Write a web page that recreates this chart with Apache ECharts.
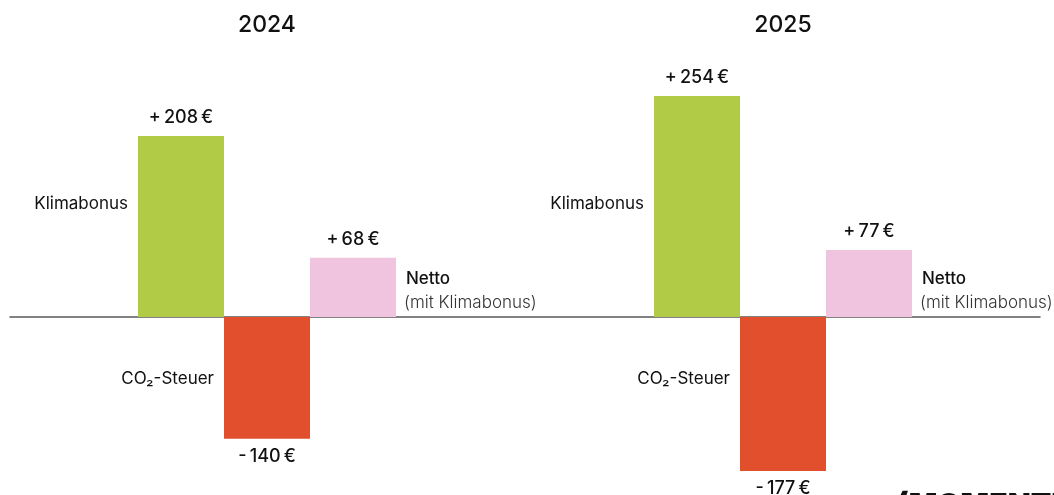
<!DOCTYPE html>
<html>
<head>
<meta charset="utf-8">
<title>Klimabonus vs. CO2-Steuer</title>
<script src="https://cdn.jsdelivr.net/npm/echarts@6/dist/echarts.min.js"></script>
<style>
  html, body { margin: 0; padding: 0; background: #fff; }
  #chart { width: 1054px; height: 495px; }
</style>
</head>
<body>
<div id="chart"></div>
<script>
// data
const years = ['2024', '2025'];
const parts = ['Klimabonus', 'CO₂-Steuer', 'Netto'];
const klimabonus = [208, 254];
const co2Steuer = [-140, -177];
const netto = [68, 77];
const nettoNote = '(mit Klimabonus)';

const colors = ['#b2cb47', '#e14f2d', '#f0c4de'];
const FONT = 'Inter, "Noto Sans", sans-serif';

// one slot per bar, three empty slots between the years
const categories = [];
const values = [];
const gapSlots = 3;
years.forEach((y, i) => {
    const vals = [klimabonus[i], co2Steuer[i], netto[i]];
    parts.forEach((p, j) => {
        categories.push(p + ' ' + y);
        values.push({
            value: vals[j],
            itemStyle: { color: colors[j] },
            label: { position: vals[j] < 0 ? 'bottom' : 'top' }
        });
    });
    if (i < years.length - 1) {
        for (let g = 0; g < gapSlots; g++) {
            categories.push('gap' + i + g);
            values.push('-');
        }
    }
});

const fmt = (v) => (v < 0 ? '-\u2009' : '+\u2009') + Math.abs(v) + '\u2009€';

const myChart = echarts.init(document.getElementById('chart'));
myChart.setOption({
    animation: false,
    backgroundColor: '#fff',
    grid: [
        { left: 138, right: 142, top: 56, bottom: 4 },
        { left: 10, right: 14, top: 56, bottom: 4 }
    ],
    xAxis: [
        {
            type: 'category', gridIndex: 0, data: categories,
            axisLine: { show: false }, axisTick: { show: false }, axisLabel: { show: false }
        },
        {
            type: 'category', gridIndex: 1, data: ['x'],
            axisLine: { show: true, onZero: true, lineStyle: { color: '#5a5a5a', width: 1.5 } },
            axisTick: { show: false }, axisLabel: { show: false }
        }
    ],
    yAxis: [
        { type: 'value', gridIndex: 0, min: -200, max: 300, show: false },
        { type: 'value', gridIndex: 1, min: -200, max: 300, show: false }
    ],
    series: [{
        type: 'bar',
        xAxisIndex: 0,
        yAxisIndex: 0,
        barWidth: '100%',
        data: values,
        label: {
            show: true,
            distance: 9,
            color: '#111',
            fontFamily: FONT,
            fontSize: 18,
            fontWeight: 500,
            formatter: (p) => fmt(p.value)
        }
    }]
});

// annotations next to the bars
const px = (idx) => myChart.convertToPixel({ xAxisIndex: 0, yAxisIndex: 0 }, [idx, 0]);
const slot = px(1)[0] - px(0)[0];
const graphics = [];
years.forEach((y, i) => {
    const base = i * (parts.length + gapSlots);
    const kb = px(base), co = px(base + 1), ne = px(base + 2);
    graphics.push({
        type: 'text', x: co[0], y: 25,
        style: { text: y, font: '500 23px ' + FONT, fill: '#111', textAlign: 'center', textVerticalAlign: 'middle' }
    });
    graphics.push({
        type: 'text', x: kb[0] - slot / 2 - 10, y: 204,
        style: { text: parts[0], font: '400 17px ' + FONT, fill: '#111', textAlign: 'right', textVerticalAlign: 'middle' }
    });
    graphics.push({
        type: 'text', x: co[0] - slot / 2 - 10, y: 379,
        style: { text: parts[1], font: '400 17px ' + FONT, fill: '#111', textAlign: 'right', textVerticalAlign: 'middle' }
    });
    graphics.push({
        type: 'text', x: ne[0] + slot / 2 + 10, y: 279,
        style: { text: parts[2], font: '500 17px ' + FONT, fill: '#111', textAlign: 'left', textVerticalAlign: 'middle' }
    });
    graphics.push({
        type: 'text', x: ne[0] + slot / 2 + 8, y: 303,
        style: { text: nettoNote, font: '300 17px ' + FONT, fill: '#333', textAlign: 'left', textVerticalAlign: 'middle' }
    });
});
// logo, cut off at the bottom edge
graphics.push({
    type: 'text', left: 897, top: 491,
    style: { text: '(MOMENTUM)', font: '900 30px ' + FONT, fill: '#111' }
});
myChart.setOption({ graphic: graphics });
</script>
</body>
</html>
